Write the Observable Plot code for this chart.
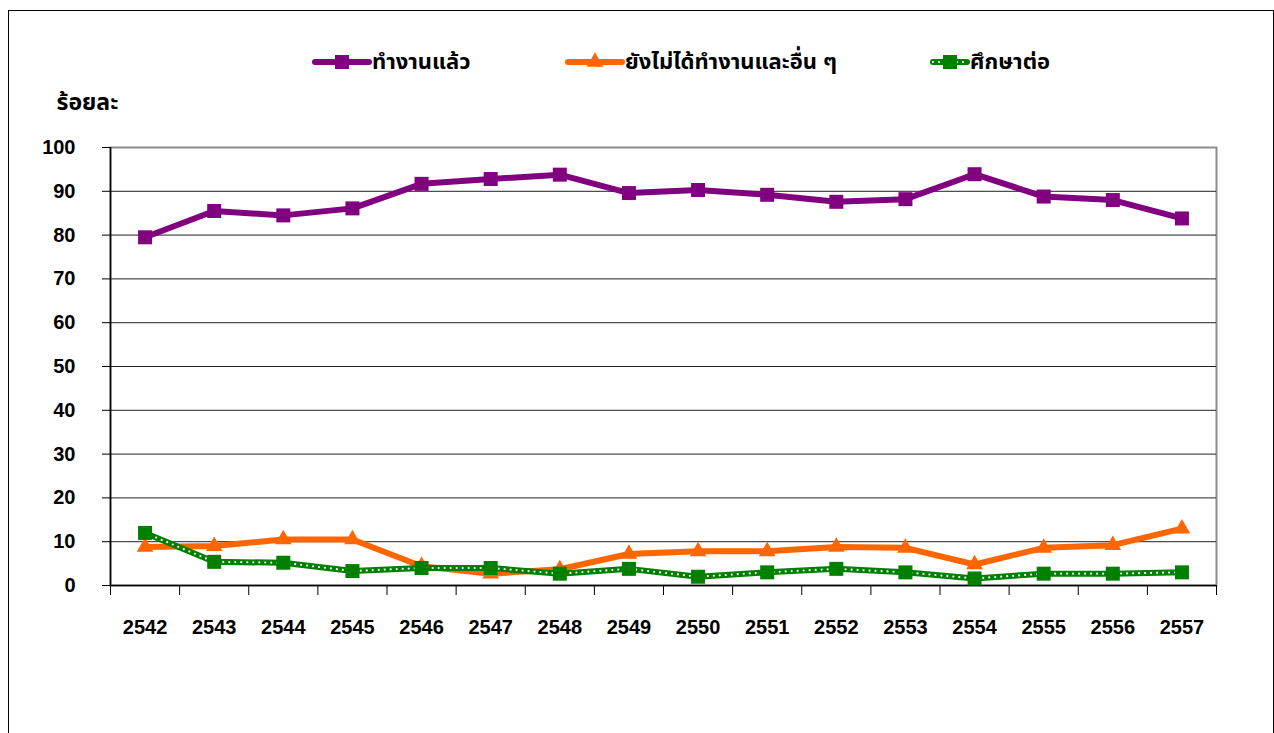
<!DOCTYPE html>
<html>
<head>
<meta charset="utf-8">
<script src="https://cdn.jsdelivr.net/npm/d3@7"></script>
<script src="https://cdn.jsdelivr.net/npm/@observablehq/plot@0.6"></script>
<style>
  html, body { margin: 0; padding: 0; background: #fff; }
  #frame { position: absolute; left: 8px; top: 10px; width: 1264px; height: 740px; border: 1px solid #000; overflow: hidden; }
  #legend { position: relative; height: 75px; font-family: Arial, "Liberation Sans", "Noto Sans Thai", "Noto Sans", sans-serif; font-weight: bold; font-size: 22px; }
  .item { position: absolute; top: 37px; display: flex; align-items: center; height: 28px; }
  .item svg { display: block; }
</style>
</head>
<body>
<div id="frame">
  <div id="legend"></div>
  <div id="chart"></div>
</div>
<script>
const years = [2542, 2543, 2544, 2545, 2546, 2547, 2548, 2549, 2550, 2551, 2552, 2553, 2554, 2555, 2556, 2557];
const employed    = [79.5, 85.5, 84.5, 86.1, 91.7, 92.8, 93.8, 89.6, 90.3, 89.2, 87.6, 88.2, 93.9, 88.8, 88.0, 83.8];
const notEmployed = [8.8, 9.0, 10.5, 10.5, 4.4, 2.7, 3.7, 7.2, 7.8, 7.8, 8.8, 8.6, 4.8, 8.6, 9.2, 13.0];
const studying    = [12.0, 5.4, 5.2, 3.3, 4.0, 4.0, 2.7, 3.8, 2.0, 3.0, 3.8, 3.0, 1.6, 2.7, 2.7, 3.0];
const seriesNames = ["ทำงานแล้ว", "ยังไม่ได้ทำงานและอื่น ๆ", "ศึกษาต่อ"];
const yTicks = [0, 10, 20, 30, 40, 50, 60, 70, 80, 90, 100];
const yLabel = "ร้อยละ";

const colors = ["#800080", "#FF6600", "#008000"];
const rows = (vals) => years.map((y, i) => ({year: y, value: vals[i]}));
const dEmp = rows(employed), dNot = rows(notEmployed), dStu = rows(studying);
const boundaries = years.map(y => y - 0.5).concat([years[years.length - 1] + 0.5]);

// Legend
const legend = document.getElementById("legend");
const legendItems = [
  {name: seriesNames[0], color: colors[0], symbol: "square", left: 303, dotted: false},
  {name: seriesNames[1], color: colors[1], symbol: "triangle", left: 556, dotted: false},
  {name: seriesNames[2], color: colors[2], symbol: "square", left: 921, dotted: true}
];
legendItems.forEach(it => {
  const div = document.createElement("div");
  div.className = "item";
  div.style.left = it.left + "px";
  const ns = "http://www.w3.org/2000/svg";
  const s = document.createElementNS(ns, "svg");
  const w = it.dotted ? 40 : 60;
  s.setAttribute("width", w); s.setAttribute("height", 28);
  const ln = document.createElementNS(ns, "line");
  ln.setAttribute("x1", 3); ln.setAttribute("x2", w - 3); ln.setAttribute("y1", 14); ln.setAttribute("y2", 14);
  ln.setAttribute("stroke", it.color); ln.setAttribute("stroke-width", 6); ln.setAttribute("stroke-linecap", "round");
  s.appendChild(ln);
  if (it.dotted) {
    const l2 = ln.cloneNode();
    l2.setAttribute("stroke", "#fff"); l2.setAttribute("stroke-width", 2.2); l2.setAttribute("stroke-dasharray", "0 6");
    s.appendChild(l2);
  }
  const sym = document.createElementNS(ns, "path");
  const r = it.symbol === "square" ? 7.9 : 6.2;
  sym.setAttribute("d", d3.symbol(it.symbol === "square" ? d3.symbolSquare : d3.symbolTriangle, Math.PI * r * r)());
  sym.setAttribute("transform", `translate(${w / 2},14)`);
  sym.setAttribute("fill", it.color);
  s.appendChild(sym);
  div.appendChild(s);
  const t = document.createElement("span");
  t.textContent = it.name;
  div.appendChild(t);
  legend.appendChild(div);
});

const chart = Plot.plot({
  width: 1264,
  height: 560,
  marginLeft: 101,
  marginRight: 57,
  marginTop: 61,
  marginBottom: 61,
  style: {fontFamily: "Arial, 'Liberation Sans', 'Noto Sans Thai', sans-serif", fontSize: "20px", background: "#fff", overflow: "visible"},
  x: {type: "linear", domain: [years[0] - 0.5, years[years.length - 1] + 0.5]},
  y: {domain: [0, 100]},
  marks: [
    Plot.frame({stroke: "#8c8c8c", strokeWidth: 2}),
    Plot.gridY(yTicks.filter(v => v > 0 && v < 100), {stroke: "#222", strokeOpacity: 1, strokeWidth: 1}),
    Plot.ruleY([0], {stroke: "#000", strokeWidth: 1.5}),
    Plot.ruleX([boundaries[0]], {stroke: "#000", strokeWidth: 1.5}),
    Plot.axisY({ticks: yTicks, tickSize: 8, tickPadding: 27, fontWeight: "bold", fontSize: 20, label: null, stroke: "#000"}),
    Plot.axisX({ticks: boundaries, tickSize: 10, text: null, label: null, stroke: "#000"}),
    Plot.axisX({ticks: years, tickSize: 0, tickPadding: 34, tickFormat: d => String(d), fontWeight: "bold", fontSize: 20, label: null}),
    Plot.text([yLabel], {frameAnchor: "top-left", dx: -54, dy: -54, textAnchor: "start", fontWeight: "bold", fontSize: 23}),
    // orange
    Plot.line(dNot, {x: "year", y: "value", stroke: colors[1], strokeWidth: 6, strokeLinejoin: "round"}),
    Plot.dot(dNot, {x: "year", y: "value", symbol: "triangle", r: 6.2, fill: colors[1], stroke: "none"}),
    // green dotted
    Plot.line(dStu, {x: "year", y: "value", stroke: colors[2], strokeWidth: 6, strokeLinejoin: "round"}),
    Plot.line(dStu, {x: "year", y: "value", stroke: "#fff", strokeWidth: 2.2, strokeDasharray: "0 6", strokeLinecap: "round"}),
    Plot.dot(dStu, {x: "year", y: "value", symbol: "square", r: 7.9, fill: colors[2], stroke: "none"}),
    // purple
    Plot.line(dEmp, {x: "year", y: "value", stroke: colors[0], strokeWidth: 6, strokeLinejoin: "round"}),
    Plot.dot(dEmp, {x: "year", y: "value", symbol: "square", r: 7.9, fill: colors[0], stroke: "none"})
  ]
});
document.getElementById("chart").appendChild(chart);
</script>
</body>
</html>
